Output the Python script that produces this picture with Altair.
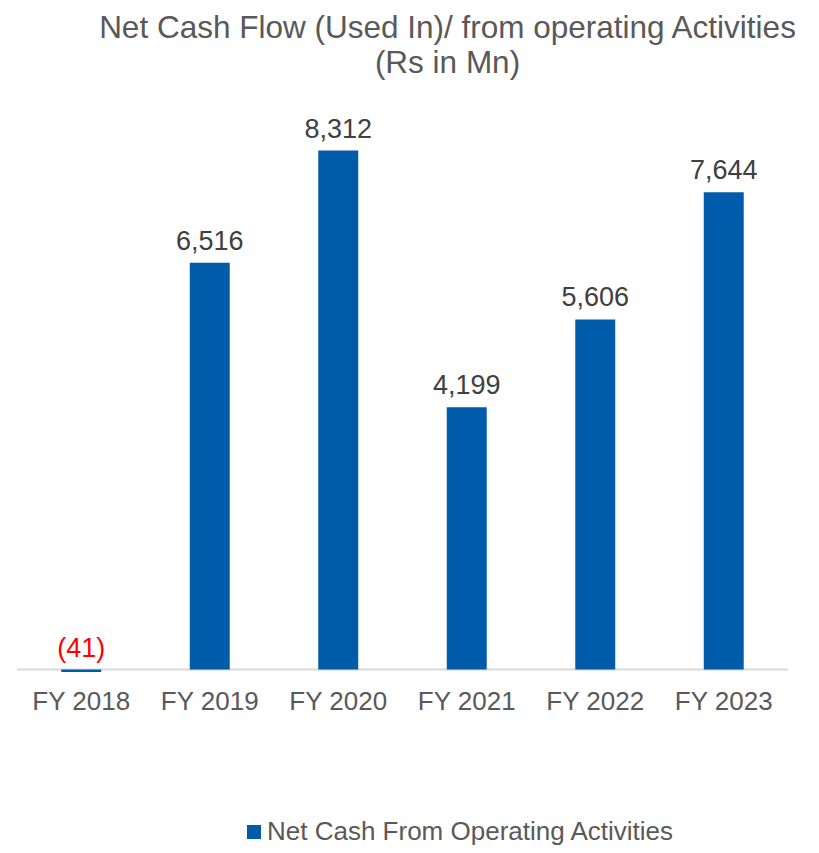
import altair as alt
import pandas as pd

years = ["FY 2018", "FY 2019", "FY 2020", "FY 2021", "FY 2022", "FY 2023"]
values = [-41, 6516, 8312, 4199, 5606, 7644]
series_name = "Net Cash From Operating Activities"
title_lines = ["Net Cash Flow (Used In)/ from operating Activities", "(Rs in Mn)"]

BAR = "#005BAA"
TXT = "#595959"
FONT = "Liberation Sans"


def fmt(v):
    return f"({abs(v):,})" if v < 0 else f"{v:,}"


df = pd.DataFrame({
    "year": years,
    "value": values,
    "series": [series_name] * len(years),
    "label": [fmt(v) for v in values],
    "label_y": [max(v, 0) for v in values],
    "neg": [v < 0 for v in values],
})

yscale = alt.Scale(domain=[-168, 9121], nice=False, zero=False)
x = alt.X(
    "year:N", sort=years,
    scale=alt.Scale(paddingInner=0.689, paddingOuter=0.3445),
    axis=alt.Axis(title=None, labelAngle=0, domain=False, ticks=False,
                  labelFontSize=26, labelColor=TXT, labelPadding=8,
                  labelFont=FONT),
)

base = alt.Chart(df)

zero_rule = alt.Chart(pd.DataFrame({"zero": [0]})).mark_rule(
    color="#D9D9D9", strokeWidth=2
).encode(y=alt.Y("zero:Q", scale=yscale, axis=None))

bars = base.mark_bar(color=BAR).encode(
    x=x,
    y=alt.Y("value:Q", scale=yscale, axis=None),
    y2=alt.datum(0),
    color=alt.Color(
        "series:N", scale=alt.Scale(range=[BAR]),
        legend=alt.Legend(
            title=None, orient="none", legendX=224, legendY=719,
            symbolType="square", symbolSize=196, symbolStrokeWidth=0,
            labelFontSize=26, labelColor=TXT, labelFont=FONT,
            labelOffset=0, padding=0, labelLimit=0,
        ),
    ),
)

labels = base.mark_text(
    fontSize=27, font=FONT, baseline="alphabetic", dy=-13
).encode(
    x=x,
    y=alt.Y("label_y:Q", scale=yscale, axis=None),
    text="label:N",
    color=alt.condition(alt.datum.neg, alt.value("#FF0000"), alt.value("#404040")),
)

chart = alt.layer(zero_rule, bars, labels).properties(
    width=771, height=580,
    autosize=alt.AutoSizeParams(type="none"),
    padding={"left": 9, "top": 92, "right": 23, "bottom": 165},
    title=alt.TitleParams(
        title_lines, fontSize=31.5, font=FONT, fontWeight="normal", color=TXT,
        anchor="middle", dx=45, offset=21, lineHeight=35,
    ),
).configure_view(stroke=None)

chart.save("out.html", embed_options={"renderer": "svg", "actions": False})
